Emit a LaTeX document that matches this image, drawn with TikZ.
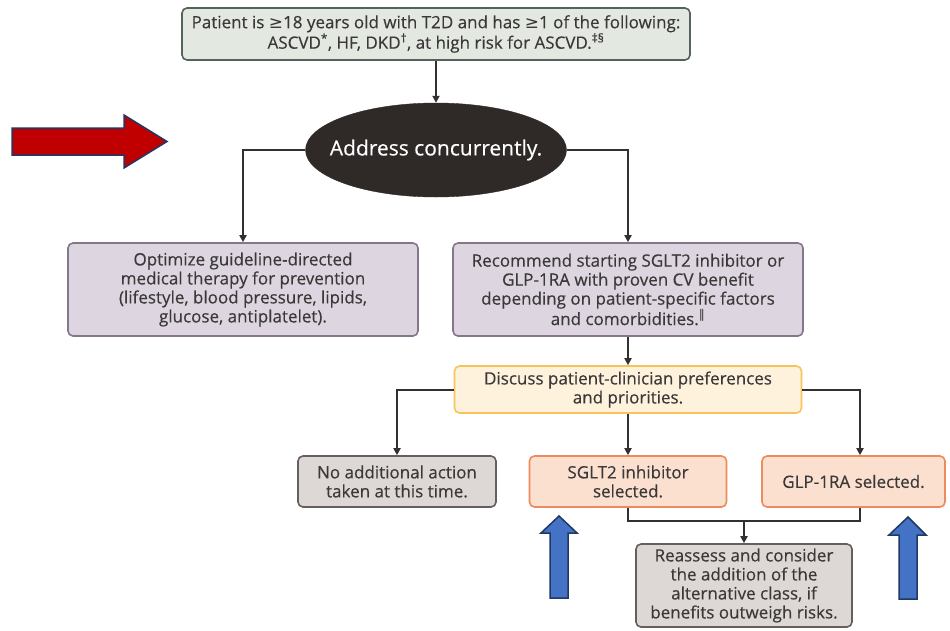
\documentclass[tikz,border=0pt]{standalone}
\usepackage{fontspec}
\setmainfont{Open Sans}[FakeBold=0.3]
\newfontfamily\symf{DejaVu Sans}
\usetikzlibrary{arrows.meta,shapes.geometric}
\definecolor{txt}{HTML}{3A3838}
\definecolor{ln}{HTML}{333030}
\definecolor{topfill}{HTML}{E3E8E1}
\definecolor{topdraw}{HTML}{56625F}
\definecolor{lavfill}{HTML}{DDD5DF}
\definecolor{lavdraw}{HTML}{85768C}
\definecolor{yelfill}{HTML}{FEF2DC}
\definecolor{yeldraw}{HTML}{F8C35A}
\definecolor{grfill}{HTML}{DDD7D5}
\definecolor{grdraw}{HTML}{65605E}
\definecolor{orfill}{HTML}{FBE0CF}
\definecolor{ordraw}{HTML}{EC8A60}
\definecolor{ellfill}{HTML}{2F2A28}
\definecolor{redarr}{HTML}{C00000}
\definecolor{bluearr}{HTML}{4472C4}
\definecolor{navy}{HTML}{1F3864}
\begin{document}
\begin{tikzpicture}[x=1pt,y=-1pt,
  every node/.style={text=txt, font=\fontsize{17}{19}\selectfont},
  box/.style={rectangle, rounded corners=5pt, line width=1.6pt, align=center, inner sep=1pt},
  conn/.style={draw=ln, line width=2pt},
  arr/.style={conn, -{Triangle[length=7pt,width=7pt]}},
  blockarr/.style={line width=1.5pt, draw=navy, line join=miter}
]
\useasboundingbox (0,0) rectangle (950,630);

\node[box, fill=topfill, draw=topdraw, minimum width=508pt, minimum height=52pt] (top) at (436,34)
  {Patient is {\symf ≥}18 years old with T2D and has {\symf ≥}1 of the following:\\
   ASCVD\textsuperscript{*}, HF, DKD\textsuperscript{†}, at high risk for ASCVD.\textsuperscript{‡§}};

\node[ellipse, fill=ellfill, draw=ellfill, minimum width=261pt, minimum height=94pt, inner ysep=0pt, inner xsep=-14pt,
  text=white, font=\fontsize{21}{24}\selectfont] (ell) at (436,150) {Address concurrently.};

\node[box, fill=lavfill, draw=lavdraw, minimum width=350pt, minimum height=93pt] (opt) at (243,289.5)
  {Optimize guideline-directed\\ medical therapy for prevention\\ (lifestyle, blood pressure, lipids,\\ glucose, antiplatelet).};

\node[box, fill=lavfill, draw=lavdraw, minimum width=350pt, minimum height=93pt] (rec) at (628,289.5)
  {Recommend starting SGLT2 inhibitor or\\ GLP-1RA with proven CV benefit\\ depending on patient-specific factors\\ and comorbidities.\textsuperscript{\symf ‖}};

\node[box, fill=yelfill, draw=yeldraw, minimum width=347pt, minimum height=47pt] (disc) at (628,389.5)
  {Discuss patient-clinician preferences\\ and priorities.};

\node[box, fill=grfill, draw=grdraw, minimum width=198pt, minimum height=51pt] (noadd) at (397,481.5)
  {No additional action\\ taken at this time.};

\node[box, fill=orfill, draw=ordraw, minimum width=197pt, minimum height=51pt] (sglt) at (628,481.5)
  {SGLT2 inhibitor\\ selected.};

\node[box, fill=orfill, draw=ordraw, minimum width=183pt, minimum height=51pt] (glp) at (853.5,481.5)
  {GLP-1RA selected.};

\node[box, fill=grfill, draw=grdraw, minimum width=216pt, minimum height=83pt] (reass) at (744,585.5)
  {Reassess and consider\\ the addition of the\\ alternative class, if\\ benefits outweigh risks.};

% connectors
\draw[arr] (top.south) -- (ell.north);
\draw[arr] (ell.west) -| (opt.north);
\draw[arr] (ell.east) -| (rec.north);
\draw[arr] (rec.south) -- (disc.north);
\draw[arr] (disc.west) -| (noadd.north);
\draw[arr] (disc.south) -- (sglt.north);
\coordinate (gn) at ([xshift=6.5pt]glp.north);
\coordinate (gs) at ([xshift=6.5pt]glp.south);
\draw[arr] (disc.east) -| (gn);
\coordinate (m) at (744,521);
\draw[conn] (sglt.south) |- (m);
\draw[conn] (gs) |- (m);
\draw[arr] (m) -- (reass.north);

% block arrows
\draw[blockarr, fill=redarr] (12,128) -- (124,128) -- (124,115) -- (167,141.5) -- (124,168) -- (124,155) -- (12,155) -- cycle;
\draw[blockarr, fill=bluearr] (559,516) -- (577,533) -- (568,533) -- (568,598) -- (550,598) -- (550,533) -- (541,533) -- cycle;
\draw[blockarr, fill=bluearr] (908,517) -- (926,535) -- (917,535) -- (917,599) -- (899,599) -- (899,535) -- (889,535) -- cycle;
\end{tikzpicture}
\end{document}
